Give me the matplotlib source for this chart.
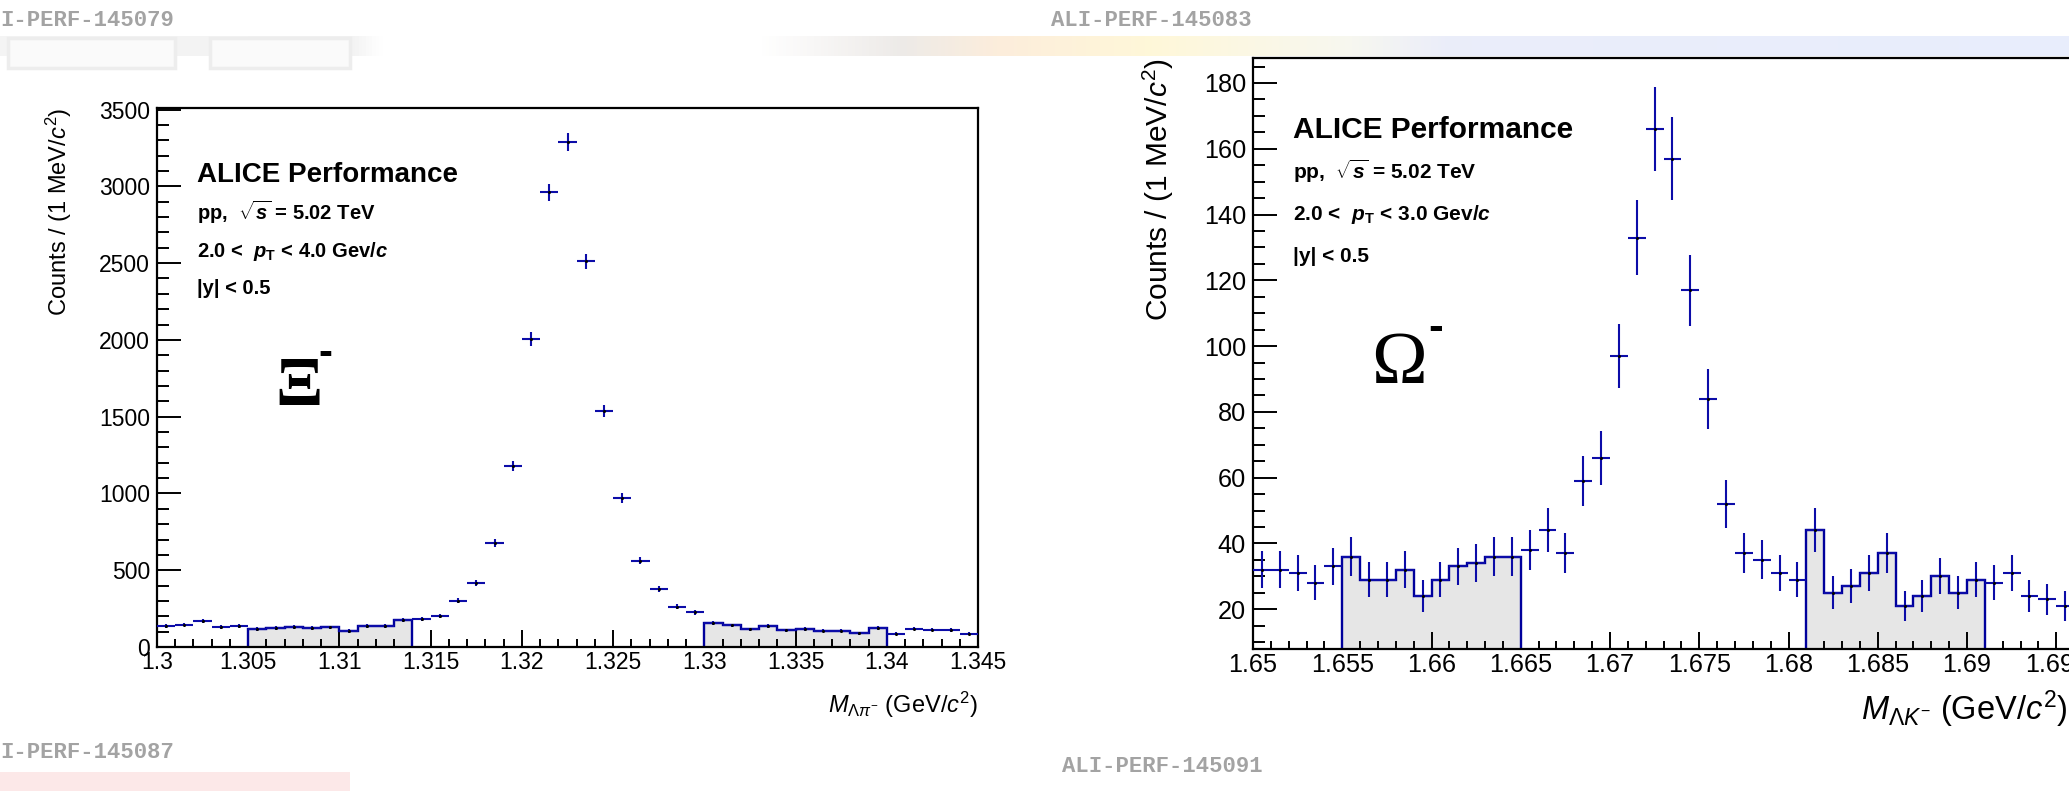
import numpy as np
import matplotlib
matplotlib.use("Agg")
import matplotlib.pyplot as plt
from matplotlib.patches import Rectangle
from matplotlib.ticker import MultipleLocator, FormatStrFormatter

W, H = 2069, 791

# --- Xi- (Lambda pi-) invariant mass, 1 MeV bins from 1.300 ---
xi_first_edge = 1.300
xi_counts = [135, 146, 167, 130, 137, 117, 124, 130, 124, 128,
             104, 135, 137, 176, 185, 202, 302, 417, 678, 1180,
             2005, 2960, 3290, 2512, 1534, 972, 563, 380, 263, 226,
             159, 141, 115, 137, 109, 117, 107, 107, 89, 124,
             87, 120, 113, 111, 87]
xi_sideband_bins = [(5, 14), (30, 40)]

# --- Omega- (Lambda K-) invariant mass, 1 MeV bins from 1.650 ---
om_first_edge = 1.650
om_counts = [32, 32, 31, 28, 33, 36, 29, 29, 32, 24,
             29, 33, 34, 36, 36, 38, 44, 37, 59, 66,
             97, 133, 166, 157, 117, 84, 52, 37, 35, 31,
             29, 44, 25, 27, 31, 37, 21, 24, 30, 25,
             29, 28, 31, 24, 23, 21]
om_sideband_bins = [(5, 15), (31, 41)]

BIN_W = 0.001
BLUE = "#0c0ca8"
STEP_BLUE = "#00009c"
FILL = "#e6e6e6"

plt.rcParams["font.family"] = ["Liberation Sans", "DejaVu Sans"]
plt.rcParams["mathtext.fontset"] = "custom"
plt.rcParams["mathtext.rm"] = "Liberation Sans"
plt.rcParams["mathtext.it"] = "Liberation Sans:italic"
plt.rcParams["mathtext.bf"] = "Liberation Sans:bold:italic"
plt.rcParams["mathtext.sf"] = "Liberation Sans:bold"


def fx(px):
    return px / W


def fy(py):
    return 1 - py / H


def draw_panel(ax, first_edge, counts, sidebands):
    counts = np.array(counts, dtype=float)
    n = len(counts)
    edges = first_edge + BIN_W * np.arange(n + 1)
    centers = edges[:-1] + BIN_W / 2
    for i0, i1 in sidebands:
        ax.stairs(counts[i0:i1], edges[i0:i1 + 1], fill=True, color=FILL, zorder=1)
        ax.stairs(counts[i0:i1], edges[i0:i1 + 1], baseline=0, color=STEP_BLUE,
                  linewidth=1.7, zorder=2)
    ax.errorbar(centers, counts, xerr=BIN_W / 2, yerr=np.sqrt(counts), fmt="none",
                ecolor=BLUE, elinewidth=1.5, capsize=0, zorder=3)
    ax.plot(centers, counts, "o", color="black", ms=2.2, mec="none", zorder=4)


def style_axes(ax, ylen_px, xlen_px, fs):
    for s in ax.spines.values():
        s.set_linewidth(1.6)
    ax.tick_params(which="both", direction="in", top=False, right=False, width=1.4,
                   labelsize=fs)
    ax.tick_params(axis="y", which="major", length=ylen_px * 0.72, pad=5)
    ax.tick_params(axis="y", which="minor", length=ylen_px * 0.36)
    ax.tick_params(axis="x", which="major", length=xlen_px * 0.72, pad=3)
    ax.tick_params(axis="x", which="minor", length=xlen_px * 0.36)
    ax.xaxis.set_major_formatter(FormatStrFormatter("%g"))
    ax.yaxis.set_major_formatter(FormatStrFormatter("%g"))


fig = plt.figure(figsize=(W / 100, H / 100), dpi=100)

# background decoration: faded banner strip and watermark ids
bg = fig.add_axes([0, 0, 1, 1], zorder=-5)
stops_x = [0, 350, 380, 760, 900, 1000, 1150, 1350, 1450, 2069]
stops_c = np.array([[0.96, 0.96, 0.96], [0.95, 0.95, 0.95], [1, 1, 1], [1, 1, 1],
                    [0.93, 0.92, 0.91], [0.99, 0.93, 0.86], [1.0, 0.97, 0.85],
                    [0.97, 0.97, 0.94], [0.92, 0.93, 0.98], [0.91, 0.93, 0.99]])
xs = np.linspace(0, W, 600)
band = np.stack([np.interp(xs, stops_x, stops_c[:, k]) for k in range(3)], axis=-1)
bg.imshow(band[np.newaxis, :, :], extent=[0, W, 56, 36], aspect="auto")
bg.imshow(np.array([[[0.99, 0.91, 0.91]]]), extent=[0, 350, 791, 772], aspect="auto")
for x0, x1 in [(8, 175), (210, 350)]:
    bg.add_patch(Rectangle((x0, 38), x1 - x0, 30, facecolor="#fafafa",
                           edgecolor="#ededed", linewidth=2.5))
bg.set_xlim(0, W)
bg.set_ylim(H, 0)
bg.axis("off")
wm = dict(family="Liberation Mono", weight="bold", fontsize=16, color="#a3a3a3", va="center")
fig.text(fx(0), fy(20), "I-PERF-145079", **wm)
fig.text(fx(1051), fy(20), "ALI-PERF-145083", **wm)
fig.text(fx(0), fy(753), "I-PERF-145087", **wm)
fig.text(fx(1062), fy(766), "ALI-PERF-145091", **wm)

# ---- left panel: Xi ----
ax1 = fig.add_axes([fx(157), fy(647), 821 / W, 539 / H])
draw_panel(ax1, xi_first_edge, xi_counts, xi_sideband_bins)
ax1.set_xlim(1.300, 1.345)
ax1.set_ylim(0, 3510)
ax1.xaxis.set_major_locator(MultipleLocator(0.005))
ax1.xaxis.set_minor_locator(MultipleLocator(0.001))
ax1.yaxis.set_major_locator(MultipleLocator(500))
ax1.yaxis.set_minor_locator(MultipleLocator(100))
style_axes(ax1, 24, 17, 16.5)
ax1.set_ylabel(r"Counts / (1 MeV/$\mathit{c}^{2}$)", fontsize=17, loc="top")
ax1.yaxis.set_label_coords(-0.101, 1.0)
ax1.set_xlabel(r"$M_{\Lambda\pi^{-}}$ (GeV/$c^{2}$)", fontsize=17, loc="right")
ax1.xaxis.set_label_coords(1.0, -0.08)

fig.text(fx(197), fy(182), "ALICE Performance", fontsize=20, weight="bold", va="baseline")
fig.text(fx(197), fy(220), r"pp,  $\sqrt{\mathbf{s}}$ = 5.02 TeV", fontsize=14.5,
         weight="bold", va="baseline")
fig.text(fx(197), fy(257), r"2.0 <  $\mathbf{p}_{\mathsf{T}}$ < 4.0 Gev/$\mathbf{c}$",
         fontsize=14.5, weight="bold", va="baseline")
fig.text(fx(197), fy(294), "|y| < 0.5", fontsize=14.5, weight="bold", va="baseline")
fig.text(fx(275), fy(405), "Ξ", family="Liberation Serif", weight="bold", fontsize=50,
         va="baseline")
fig.text(fx(325), fy(354), "-", family="Liberation Sans", weight="bold", fontsize=30,
         va="center", ha="center")

# ---- right panel: Omega (cropped at the right image edge) ----
ax2 = fig.add_axes([fx(1253), fy(649), 892.5 / W, 591 / H])
draw_panel(ax2, om_first_edge, om_counts, om_sideband_bins)
ax2.set_xlim(1.650, 1.700)
ax2.set_ylim(7.9, 187.6)
ax2.xaxis.set_major_locator(MultipleLocator(0.005))
ax2.xaxis.set_minor_locator(MultipleLocator(0.001))
ax2.yaxis.set_major_locator(MultipleLocator(20))
ax2.yaxis.set_minor_locator(MultipleLocator(5))
style_axes(ax2, 24, 17, 18.2)
ax2.set_ylabel(r"Counts / (1 MeV/$\mathit{c}^{2}$)", fontsize=21.5, loc="top")
ax2.yaxis.set_label_coords(-0.086, 1.0)
ax2.set_xlabel(r"$M_{\Lambda K^{-}}$ (GeV/$c^{2}$)", fontsize=23.5, loc="right")
ax2.xaxis.label.set_horizontalalignment("left")
ax2.xaxis.set_label_coords((1861 - 1253) / 892.5, -0.066)

fig.text(fx(1293), fy(138), "ALICE Performance", fontsize=21.5, weight="bold", va="baseline")
fig.text(fx(1293), fy(179), r"pp,  $\sqrt{\mathbf{s}}$ = 5.02 TeV", fontsize=15,
         weight="bold", va="baseline")
fig.text(fx(1293), fy(220), r"2.0 <  $\mathbf{p}_{\mathsf{T}}$ < 3.0 Gev/$\mathbf{c}$",
         fontsize=15, weight="bold", va="baseline")
fig.text(fx(1293), fy(262), "|y| < 0.5", fontsize=15, weight="bold", va="baseline")
fig.text(fx(1371), fy(383), "Ω", family="Liberation Serif", fontsize=54, va="baseline")
fig.text(fx(1436), fy(328), "-", family="Liberation Sans", weight="bold", fontsize=32,
         va="center", ha="center")

fig.savefig("out.png", dpi=100)
